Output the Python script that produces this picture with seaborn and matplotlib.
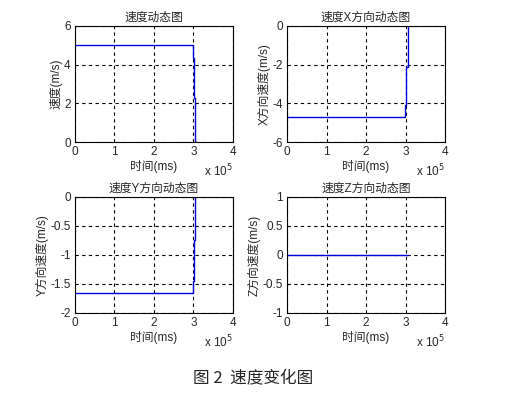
import numpy as np
import pandas as pd
import matplotlib
matplotlib.use("Agg")
import matplotlib.pyplot as plt
import seaborn as sns
from matplotlib.ticker import FuncFormatter

# data (time in ms, steps at the end of the run)
time_ms = [0, 2.99e5, 3.015e5, 3.05e5, 3.06e5]
speed = [5.0, 4.33, 2.25, 0.0, 0.0]
speed_x = [-4.7, -4.1, -2.1, 0.0, 0.0]
speed_y = [-1.65, -1.45, -0.75, 0.0, 0.0]
speed_z = [0.0, 0.0, 0.0, 0.0, 0.0]

titles = ["速度动态图", "速度X方向动态图", "速度Y方向动态图", "速度Z方向动态图"]
ylabels = ["速度(m/s)", "X方向速度(m/s)", "Y方向速度(m/s)", "Z方向速度(m/s)"]
ylims = [(0, 6), (-6, 0), (-2, 0), (-1, 1)]
yticks = [[0, 2, 4, 6], [-6, -4, -2, 0], [-2, -1.5, -1, -0.5, 0], [-1, -0.5, 0, 0.5, 1]]
xticks = [0, 1e5, 2e5, 3e5, 4e5]

sns.set_style("white")
plt.rcParams["font.family"] = ["Liberation Sans", "Noto Sans CJK SC"]
fs = 8.5

fig = plt.figure(figsize=(5.31, 3.95), dpi=100)
positions = [
    [0.1412, 0.6405, 0.2976, 0.2937],
    [0.5405, 0.6405, 0.2976, 0.2937],
    [0.1412, 0.2076, 0.2976, 0.2937],
    [0.5405, 0.2076, 0.2976, 0.2937],
]
series = [speed, speed_x, speed_y, speed_z]

for i in range(4):
    ax = fig.add_axes(positions[i])
    df = pd.DataFrame({"t": time_ms, "v": series[i]})
    sns.lineplot(data=df, x="t", y="v", ax=ax, color="#0000e0", lw=1,
                 drawstyle="steps-post", estimator=None)
    ax.set_xlim(0, 4e5)
    ax.set_ylim(*ylims[i])
    ax.set_xticks(xticks)
    ax.set_yticks(yticks[i])
    ax.xaxis.set_major_formatter(FuncFormatter(lambda v, p: f"{v / 1e5:g}"))
    ax.yaxis.set_major_formatter(FuncFormatter(lambda v, p: f"{v:g}"))
    ax.grid(True, color="black", linestyle=(0, (3, 3)), lw=0.8)
    ax.tick_params(direction="in", length=3, width=0.6, color="black",
                   labelsize=fs, pad=3)
    for s in ax.spines.values():
        s.set_color("black")
        s.set_linewidth(0.8)
    ax.set_title(titles[i], fontsize=fs, pad=4)
    ax.set_xlabel("时间(ms)", fontsize=fs, labelpad=1)
    ax.set_ylabel(ylabels[i], fontsize=fs, labelpad=1)
    ax.text(1.0, -0.25, r"x 10$^{5}$", transform=ax.transAxes,
            ha="right", va="center", fontsize=fs)

fig.text(0.477, 0.04, "图 2  速度变化图", ha="center", va="center",
         fontsize=12, family=["Noto Sans CJK SC"])

fig.savefig("out.png", dpi=100)
